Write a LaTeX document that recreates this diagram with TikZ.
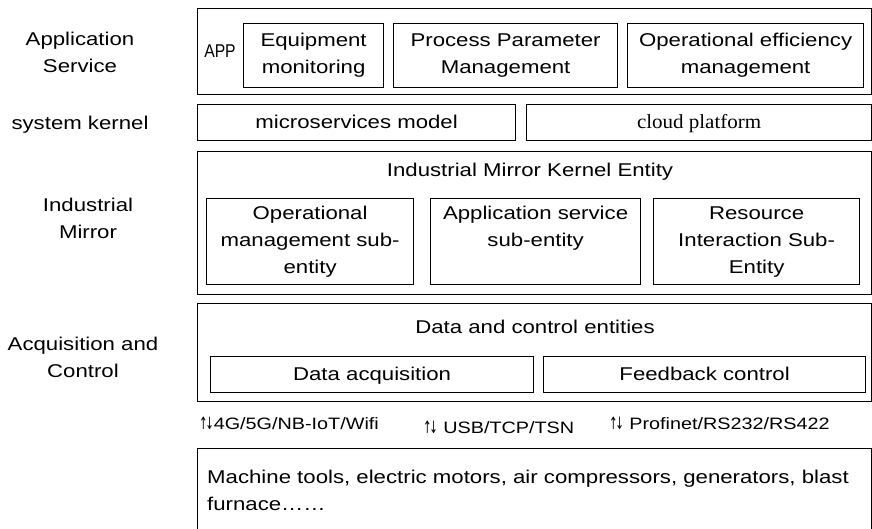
\documentclass[tikz,border=0pt]{standalone}
\usepackage{fontspec}
\setmainfont{Liberation Sans}[FakeStretch=1.2]
\newfontfamily\cloudfont{Liberation Serif}[FakeStretch=1.05]
\newfontfamily\appfont{Liberation Sans}[FakeStretch=0.85]
\newfontfamily\arrowfont{DejaVu Sans}[FakeStretch=0.6]
\usetikzlibrary{positioning}

\newcommand{\updn}{\mbox{\arrowfont\fontsize{17}{17}\selectfont↑\kern-2.5pt↓}}

\begin{document}
\begin{tikzpicture}[x=1pt, y=-1pt,
    every node/.style={font=\fontsize{18.5}{27}\selectfont, inner sep=0pt},
    layer/.style={draw, line width=1.4pt, anchor=north west},
    unit/.style={draw, line width=1.2pt, anchor=north west, align=center},
    oneline/.style={text height=15pt, text depth=3pt},
    side/.style={align=center},
    proto/.style={font=\fontsize{16.5}{20}\selectfont, anchor=west},
]
\useasboundingbox (0,0) rectangle (872,528);

% Application Service
\node[side] (lblapp) at (80,52) {Application\\Service};
\node[layer, minimum width=674pt, minimum height=86pt] (app) at (197,8) {};
\node[font=\appfont\fontsize{18.5}{18}\selectfont] (apptag) at (220,51) {APP};
\node[unit, minimum width=140pt, minimum height=64pt] (equip) at (243,23) {Equipment\\monitoring};
\node[unit, minimum width=224pt, minimum height=64pt] (param) at (393,23) {Process Parameter\\Management};
\node[unit, minimum width=236pt, minimum height=64pt] (effic) at (627,23) {Operational efficiency\\management};

% system kernel
\node[side] (lblkernel) at (80,125) {system kernel};
\node[unit, oneline, minimum width=318pt, minimum height=36pt] (micro) at (197,104) {microservices model};
\node[unit, oneline, minimum width=345pt, minimum height=36pt, font=\cloudfont\fontsize{20}{27}\selectfont] (cloud) at (526,104) {cloud platform};

% Industrial Mirror
\node[side] (lblmirror) at (88,218) {Industrial\\Mirror};
\node[layer, minimum width=674pt, minimum height=143pt] (mirror) at (197,151) {};
\node (mirrortitle) at (530,172) {Industrial Mirror Kernel Entity};
\node[unit, minimum width=207pt, minimum height=86pt] (opsub) at (206,198) {Operational\\management sub-\\entity};
\node[unit, minimum width=210pt, minimum height=86pt] (appsub) at (430,198) {Application service\\sub-entity\\\phantom{y}};
\node[unit, minimum width=206pt, minimum height=86pt] (ressub) at (653,198) {Resource\\Interaction Sub-\\Entity};

% Acquisition and Control
\node[side] (lblacq) at (83,357) {Acquisition and\\Control};
\node[layer, minimum width=674pt, minimum height=98pt] (acq) at (197,303) {};
\node (acqtitle) at (535,327) {Data and control entities};
\node[unit, oneline, minimum width=323pt, minimum height=36pt] (dataacq) at (210,356) {Data acquisition};
\node[unit, oneline, minimum width=322pt, minimum height=36pt] (feedback) at (543,356) {Feedback control};

% protocols
\node[proto] (wireless) at (199,423) {\updn4G/5G/NB-IoT/Wifi};
\node[proto] (wired) at (423,427) {\updn\ USB/TCP/TSN};
\node[proto] (fieldbus) at (609,423) {\updn\ Profinet/RS232/RS422};

% devices
\node[layer, minimum width=674pt, minimum height=95pt] (device) at (197,448) {};
\node[anchor=north west, align=left] (devtext) at (207,470)
  {Machine tools, electric motors, air compressors, generators, blast\\furnace……};

\end{tikzpicture}
\end{document}
